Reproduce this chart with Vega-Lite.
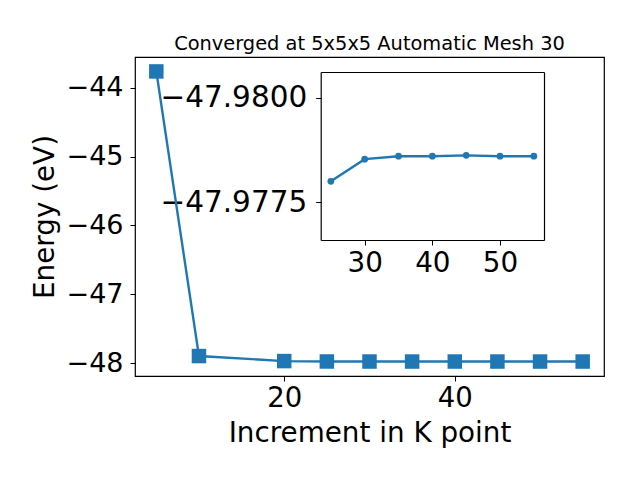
{
  "$schema": "https://vega.github.io/schema/vega-lite/v6.json",
  "width": 469,
  "height": 319,
  "autosize": "none",
  "padding": {"left": 135, "top": 57, "right": 36, "bottom": 104},
  "background": "white",
  "config": {
    "font": "DejaVu Sans",
    "view": {"stroke": "black", "strokeWidth": 1.2},
    "axis": {
      "grid": false,
      "domainColor": "black",
      "tickColor": "black",
      "labelColor": "black",
      "titleColor": "black",
      "labelFont": "DejaVu Sans",
      "titleFont": "DejaVu Sans",
      "titleFontWeight": "normal",
      "tickSize": 5,
      "tickWidth": 1,
      "domainWidth": 1.2
    }
  },
  "title": {
    "text": "Converged at 5x5x5 Automatic Mesh 30",
    "fontSize": 19.4,
    "fontWeight": "normal",
    "font": "DejaVu Sans",
    "color": "black",
    "anchor": "middle",
    "baseline": "alphabetic",
    "offset": -12
  },
  "datasets": {
    "main": [
      {"k": 5, "E": -43.76},
      {"k": 10, "E": -47.899},
      {"k": 20, "E": -47.972},
      {"k": 25, "E": -47.978},
      {"k": 30, "E": -47.9785},
      {"k": 35, "E": -47.9786},
      {"k": 40, "E": -47.9786},
      {"k": 45, "E": -47.97862},
      {"k": 50, "E": -47.9786},
      {"k": 55, "E": -47.9786}
    ],
    "inset": [
      {"k": 25, "E": -47.978},
      {"k": 30, "E": -47.97853},
      {"k": 35, "E": -47.9786},
      {"k": 40, "E": -47.9786},
      {"k": 45, "E": -47.97862},
      {"k": 50, "E": -47.9786},
      {"k": 55, "E": -47.9786}
    ]
  },
  "layer": [
    {
      "data": {"name": "main"},
      "encoding": {
        "x": {
          "field": "k",
          "type": "quantitative",
          "scale": {"domain": [2.5, 57.5], "nice": false, "zero": false},
          "axis": {
            "values": [20, 40],
            "domain": false,
            "labelFontSize": 27.5,
            "labelPadding": 3,
            "title": "Increment in K point",
            "titleFontSize": 27.8,
            "titlePadding": 8
          }
        },
        "y": {
          "field": "E",
          "type": "quantitative",
          "scale": {"domain": [-48.189, -43.55], "nice": false, "zero": false},
          "axis": {
            "values": [-48, -47, -46, -45, -44],
            "domain": false,
            "labelFontSize": 27,
            "labelPadding": 7,
            "title": "Energy (eV)",
            "titleFontSize": 27.8,
            "titlePadding": 7
          }
        }
      },
      "layer": [
        {"mark": {"type": "line", "color": "#1f77b4", "strokeWidth": 2.4}},
        {"mark": {"type": "point", "shape": "square", "filled": true, "color": "#1f77b4", "opacity": 1, "size": 210}}
      ]
    },
    {
      "data": {"name": "inset"},
      "layer": [
        {
          "mark": {"type": "line", "color": "#1f77b4", "strokeWidth": 2.4},
          "encoding": {
            "x": {
              "field": "k",
              "type": "quantitative",
              "scale": {"domain": [23.5, 56.5], "range": [185.7, 409], "nice": false, "zero": false},
              "axis": {
                "orient": "bottom",
                "offset": -136,
                "values": [30, 40, 50],
                "labelFontSize": 27.8,
                "labelPadding": 4,
                "title": null
              }
            },
            "y": {
              "field": "E",
              "type": "quantitative",
              "scale": {"domain": [-47.98061, -47.9766], "range": [15, 183], "nice": false, "zero": false},
              "axis": {
                "orient": "left",
                "offset": -185.7,
                "values": [-47.98, -47.9775],
                "format": ".4f",
                "labelFontSize": 29.5,
                "labelPadding": 9,
                "title": null
              }
            }
          }
        },
        {
          "mark": {"type": "point", "shape": "circle", "filled": true, "color": "#1f77b4", "opacity": 1, "size": 45},
          "encoding": {
            "x": {
              "field": "k",
              "type": "quantitative",
              "scale": {"domain": [23.5, 56.5], "range": [185.7, 409], "nice": false, "zero": false},
              "axis": {
                "orient": "top",
                "offset": -15,
                "labels": false,
                "ticks": false,
                "title": null
              }
            },
            "y": {
              "field": "E",
              "type": "quantitative",
              "scale": {"domain": [-47.98061, -47.9766], "range": [15, 183], "nice": false, "zero": false},
              "axis": {
                "orient": "right",
                "offset": -60,
                "labels": false,
                "ticks": false,
                "title": null
              }
            }
          }
        }
      ],
      "resolve": {"axis": {"x": "independent", "y": "independent"}}
    }
  ],
  "resolve": {
    "scale": {"x": "independent", "y": "independent"},
    "axis": {"x": "independent", "y": "independent"}
  }
}
